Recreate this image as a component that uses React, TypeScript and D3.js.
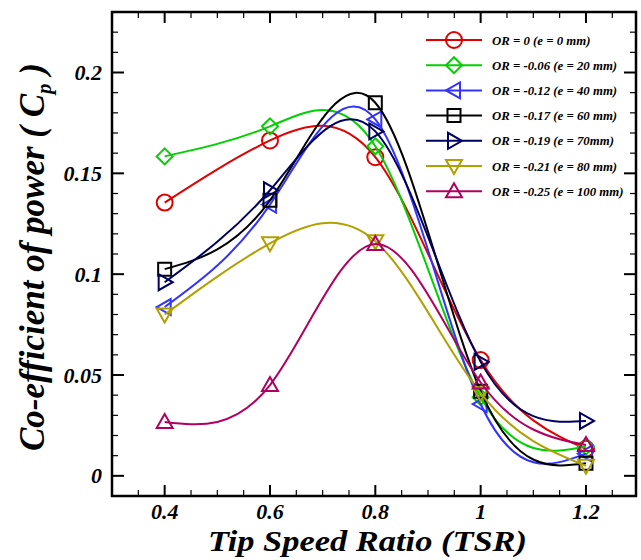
import React from "react";
import * as d3 from "d3";

const tsr = [0.4, 0.6, 0.8, 1.0, 1.2];
const seriesNames = [
  "OR = 0 (e = 0 mm)",
  "OR = -0.06 (e = 20 mm)",
  "OR = -0.12 (e = 40 mm)",
  "OR = -0.17 (e = 60 mm)",
  "OR = -0.19 (e = 70mm)",
  "OR = -0.21 (e = 80 mm)",
  "OR = -0.25 (e = 100 mm)",
];
const cpOR0 = [0.1355, 0.1663, 0.158, 0.0574, 0.0134];
const cpOR006 = [0.1584, 0.1733, 0.1634, 0.039, 0.0145];
const cpOR012 = [0.0837, 0.1345, 0.1767, 0.0356, 0.011];
const cpOR017 = [0.1025, 0.1366, 0.185, 0.042, 0.0062];
const cpOR019 = [0.096, 0.1416, 0.1708, 0.0565, 0.0272];
const cpOR021 = [0.08, 0.1153, 0.1163, 0.041, 0.005];
const cpOR025 = [0.0267, 0.045, 0.1149, 0.0463, 0.0153];
const seriesValues = [cpOR0, cpOR006, cpOR012, cpOR017, cpOR019, cpOR021, cpOR025];
const colors = ["#e00000", "#00d000", "#3333ff", "#000000", "#000060", "#b0a000", "#b00060"];
const markers = ["circle", "diamond", "triLeft", "square", "triRight", "triDown", "triUp"];

const xTicks = [0.4, 0.6, 0.8, 1.0, 1.2];
const xTickLabels = ["0.4", "0.6", "0.8", "1", "1.2"];
const yTicks = [0, 0.05, 0.1, 0.15, 0.2];
const yTickLabels = ["0", "0.05", "0.1", "0.15", "0.2"];

const FONT = "'Liberation Serif', 'Times New Roman', serif";
const textStyle = (size: number): React.CSSProperties => ({
  fontFamily: FONT,
  fontWeight: "bold",
  fontStyle: "italic",
  fontSize: size,
});

function markerPath(type: string, cx: number, cy: number): string {
  const s = 8;
  switch (type) {
    case "diamond":
      return `M${cx},${cy - s}L${cx + s},${cy}L${cx},${cy + s}L${cx - s},${cy}Z`;
    case "square":
      return `M${cx - 6.5},${cy - 6.5}h13v13h-13Z`;
    case "triLeft":
      return `M${cx - s},${cy}L${cx + 6},${cy - 8}L${cx + 6},${cy + 8}Z`;
    case "triRight":
      return `M${cx + s},${cy}L${cx - 6},${cy - 8}L${cx - 6},${cy + 8}Z`;
    case "triDown":
      return `M${cx},${cy + s}L${cx - 8},${cy - 6}L${cx + 8},${cy - 6}Z`;
    default:
      return `M${cx},${cy - s}L${cx - 8},${cy + 6}L${cx + 8},${cy + 6}Z`;
  }
}

function Marker({ type, cx, cy, color }: { type: string; cx: number; cy: number; color: string }) {
  if (type === "circle") {
    return <circle cx={cx} cy={cy} r={8} fill="none" stroke={color} strokeWidth={2} />;
  }
  return <path d={markerPath(type, cx, cy)} fill="none" stroke={color} strokeWidth={2} strokeLinejoin="miter" />;
}

export default function App() {
  const W = 641;
  const H = 560;
  const left = 112;
  const right = 636;
  const top = 12;
  const bottom = 496;
  const x = d3.scaleLinear().domain([0.3, 1.295]).range([left, right]);
  const y = d3.scaleLinear().domain([-0.01, 0.23]).range([bottom, top]);

  const line = d3
    .line<[number, number]>()
    .x((d) => x(d[0]))
    .y((d) => y(d[1]))
    .curve(d3.curveNatural);

  const xMinor = d3.range(0.35, 1.29, 0.05).filter((v) => !xTicks.some((t) => Math.abs(t - v) < 1e-6));
  const yMinor = d3.range(-0.01, 0.2301, 0.01).filter((v) => !yTicks.some((t) => Math.abs(t - v) < 1e-6));

  const legendX1 = 426;
  const legendX2 = 482;
  const legendTextX = 492;
  const legendY0 = 40;
  const legendDy = 25.2;

  return (
    <svg width={W} height={H} style={{ position: "absolute", left: 0, top: 0 }}>
      <rect x={0} y={0} width={W} height={H} fill="#fff" />
      <g>
        {seriesValues.map((vals, i) => {
          const pts: [number, number][] = tsr.map((t, j) => [t, vals[j]]);
          return (
            <g key={i}>
              <path d={line(pts) as string} fill="none" stroke={colors[i]} strokeWidth={2} />
              {pts.map((p, j) => (
                <Marker key={j} type={markers[i]} cx={x(p[0])} cy={y(p[1])} color={colors[i]} />
              ))}
            </g>
          );
        })}
      </g>
      <g stroke="#000" strokeWidth={2}>
        {xTicks.map((t, i) => (
          <g key={"xt" + i}>
            <line x1={x(t)} x2={x(t)} y1={bottom} y2={bottom - 11} />
            <line x1={x(t)} x2={x(t)} y1={top} y2={top + 11} />
          </g>
        ))}
        {xMinor.map((t, i) => (
          <g key={"xm" + i}>
            <line x1={x(t)} x2={x(t)} y1={bottom} y2={bottom - 6} strokeWidth={1.2} />
            <line x1={x(t)} x2={x(t)} y1={top} y2={top + 6} strokeWidth={1.2} />
          </g>
        ))}
        {yTicks.map((t, i) => (
          <g key={"yt" + i}>
            <line x1={left} x2={left + 12} y1={y(t)} y2={y(t)} />
            <line x1={right} x2={right - 12} y1={y(t)} y2={y(t)} />
          </g>
        ))}
        {yMinor.map((t, i) => (
          <g key={"ym" + i}>
            <line x1={left} x2={left + 6} y1={y(t)} y2={y(t)} strokeWidth={1.2} />
            <line x1={right} x2={right - 6} y1={y(t)} y2={y(t)} strokeWidth={1.2} />
          </g>
        ))}
      </g>
      <rect x={left} y={top} width={right - left} height={bottom - top} fill="none" stroke="#000" strokeWidth={2.5} />
      <g style={textStyle(22)} fill="#000">
        {xTicks.map((t, i) => (
          <text key={"xl" + i} x={x(t)} y={519} textAnchor="middle">
            {xTickLabels[i]}
          </text>
        ))}
        {yTicks.map((t, i) => (
          <text key={"yl" + i} x={102} y={y(t) + 7.5} textAnchor="end">
            {yTickLabels[i]}
          </text>
        ))}
      </g>
      <text x={208} y={551} style={textStyle(29)} textLength={319} lengthAdjust="spacingAndGlyphs">
        Tip Speed Ratio (TSR)
      </text>
      <text transform="translate(44,257) rotate(-90)" textAnchor="middle" style={textStyle(35)}>
        Co-efficient of power ( C<tspan style={{ fontSize: 21 }} dy={7}>p</tspan>
        <tspan dy={-7}> )</tspan>
      </text>
      <g>
        {seriesNames.map((name, i) => {
          const ly = legendY0 + i * legendDy;
          return (
            <g key={"lg" + i}>
              <line x1={legendX1} x2={legendX2} y1={ly} y2={ly} stroke={colors[i]} strokeWidth={2} />
              <Marker type={markers[i]} cx={(legendX1 + legendX2) / 2} cy={ly} color={colors[i]} />
              <text x={legendTextX} y={ly + 4.5} style={textStyle(12.8)} fill="#000">
                {name}
              </text>
            </g>
          );
        })}
      </g>
    </svg>
  );
}
